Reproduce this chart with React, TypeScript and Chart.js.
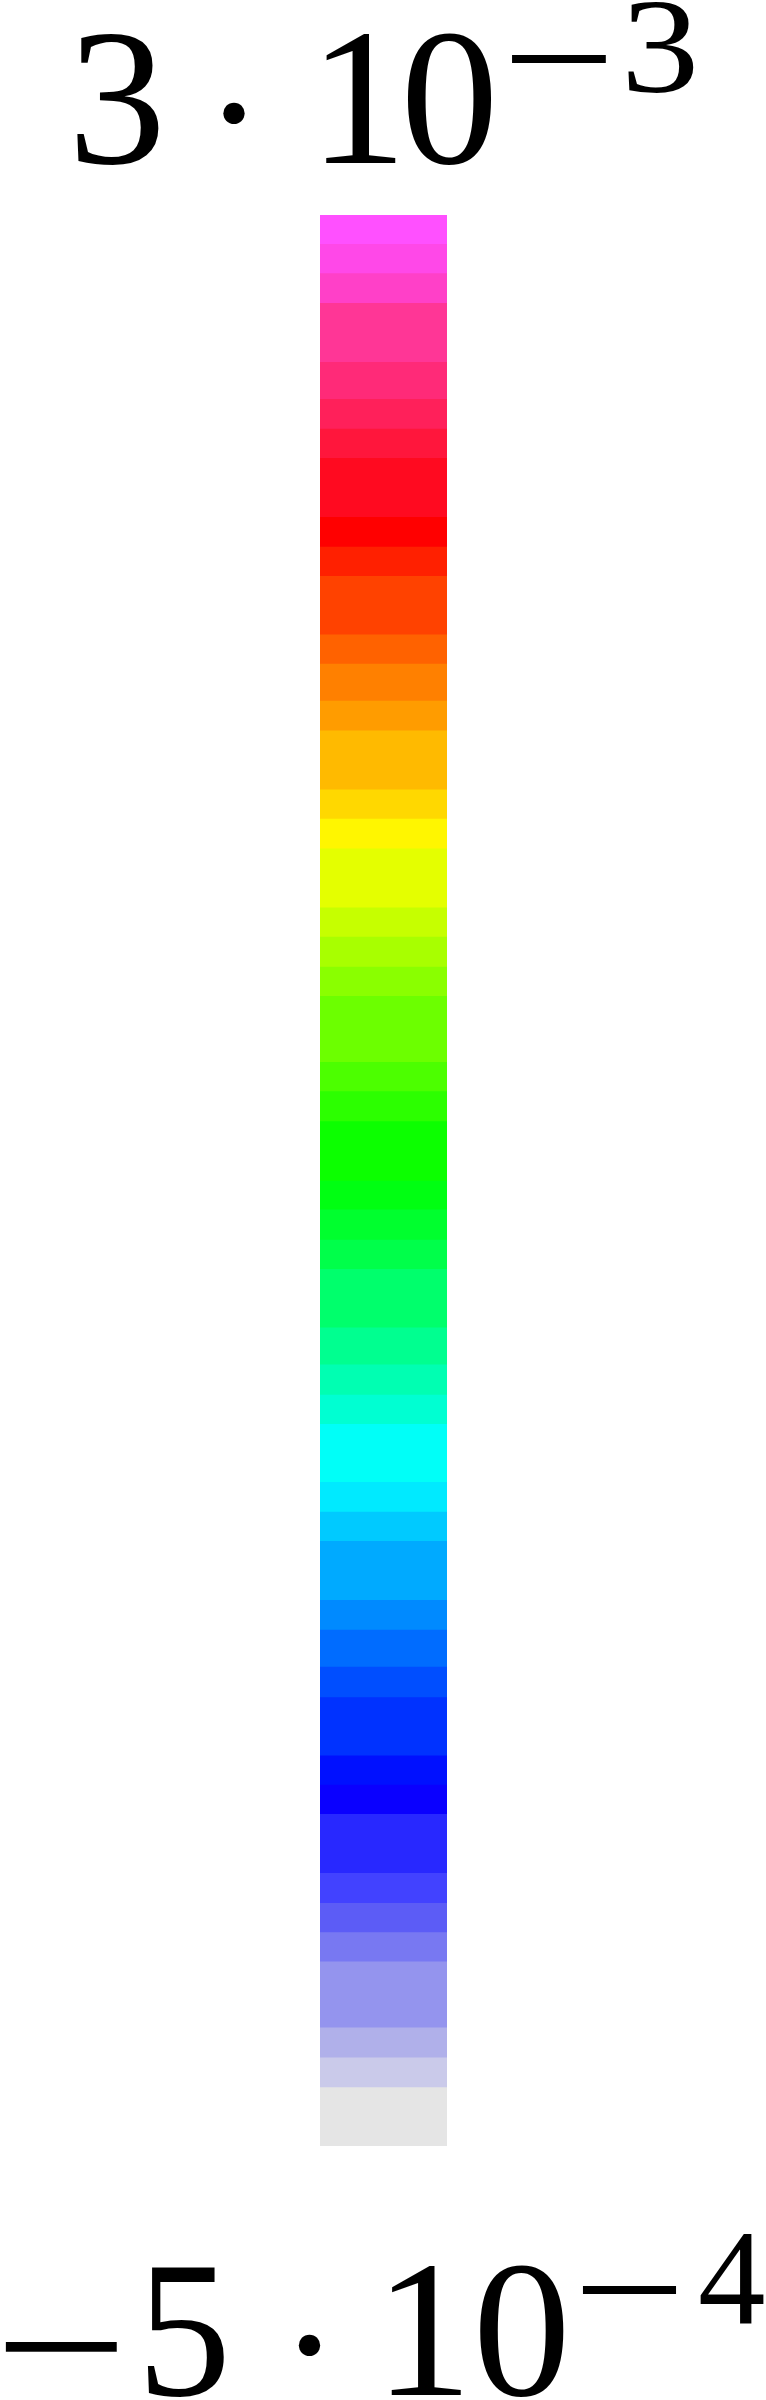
import React, { useEffect, useRef } from "react";
import { Chart, registerables } from "chart.js";

Chart.register(...registerables);

// Colour bar range (value units)
const SCALE_MIN = -5e-4;
const SCALE_MAX = 3e-3;

// Band edges, top to bottom, in units of 1e-4
const BAND_EDGES = [
  30.0, 29.47, 28.94, 28.4, 27.33, 26.66, 26.12, 25.59, 24.52, 23.98, 23.45,
  22.39, 21.86, 21.19, 20.65, 19.58, 19.05, 18.51, 17.44, 16.91, 16.37, 15.84,
  14.64, 14.11, 13.57, 12.49, 11.97, 11.42, 10.89, 9.83, 9.16, 8.61, 8.08,
  7.03, 6.49, 5.96, 4.89, 4.35, 3.68, 3.13, 2.07, 1.54, 1.01, -0.06, -0.6,
  -1.13, -1.66, -2.86, -3.4, -3.94, -5.0,
];

// Band colours, top to bottom
const BAND_COLORS = [
  "#FF50FF", "#FF48E8", "#FF40C8", "#FF3696", "#FF2A78", "#FF205A", "#FF163C",
  "#FF0A20", "#FF0000", "#FF2000", "#FF4200", "#FF6200", "#FF8000", "#FF9C00",
  "#FFBA00", "#FFD800", "#FFF600", "#E4FF00", "#C6FF00", "#A8FF00", "#8AFF00",
  "#6CFF00", "#4CFF00", "#2CFF00", "#0CFF00", "#00FF12", "#00FF2E", "#00FF4A",
  "#00FF6C", "#00FF90", "#00FFB2", "#00FFD2", "#00FFF8", "#00EAFF", "#00CAFF",
  "#00AAFF", "#008AFF", "#006CFF", "#004EFF", "#0032FF", "#0010FF", "#0A00FF",
  "#2828FF", "#4242FF", "#5C5CF6", "#7878F2", "#9494EE", "#B0B0EA", "#CACAEA",
  "#E5E5E5",
];

// Tick labels (max at top, min at bottom), one glyph per piece
const TOP_LABEL = ["3", "·", "1", "0", "−", "3"];
const BOTTOM_LABEL = ["−", "5", "·", "1", "0", "−", "4"];

const FONT = "'Liberation Serif', 'DejaVu Serif', serif";
const LH = 0.5;
const BASE = (LH - 1.107) / 2 + 0.891;

type PieceProps = { text: string; left: number; baseline: number; size: number; sx: number };

function Piece({ text, left, baseline, size, sx }: PieceProps) {
  const style: React.CSSProperties = {
    position: "absolute",
    left,
    top: baseline - BASE * size,
    fontFamily: FONT,
    fontSize: size,
    lineHeight: String(LH),
    whiteSpace: "nowrap",
    color: "#000",
  };
  if (sx !== 1) {
    style.transform = `scaleX(${sx})`;
    style.transformOrigin = "left top";
  }
  return <span style={style}>{text}</span>;
}

// placement of each label glyph: [left, baseline, size, scaleX]
const TOP_LAYOUT: [number, number, number, number][] = [
  [68, 163, 196, 1],
  [204, 174.2, 180, 1],
  [309, 163, 196, 1],
  [400.5, 163, 196, 1],
  [501.9, 112.4, 160, 1.26],
  [621, 92.1, 135, 1.16],
];
const BOTTOM_LAYOUT: [number, number, number, number][] = [
  [-6, 2412.1, 196, 1.216],
  [136.5, 2395, 196, 0.96],
  [279.4, 2406.2, 180, 1],
  [374.5, 2395, 196, 1],
  [472.7, 2395, 196, 1],
  [573, 2343.4, 160, 1.25],
  [697.9, 2324, 135, 1],
];

export default function App() {
  const ref = useRef<HTMLCanvasElement | null>(null);

  useEffect(() => {
    if (!ref.current) return;
    // bottom band first so that it is drawn last (on top); each band spans from the scale min up to its upper edge
    const datasets = BAND_COLORS.map((c, i) => ({
      label: `band ${i}`,
      data: [[SCALE_MIN, BAND_EDGES[i] * 1e-4]] as any,
      backgroundColor: c,
      borderWidth: 0,
      grouped: false,
      barPercentage: 1,
      categoryPercentage: 1,
    })).reverse();
    const chart = new Chart(ref.current, {
      type: "bar",
      data: { labels: ["colorbar"], datasets },
      options: {
        responsive: false,
        animation: false,
        layout: { padding: 0 },
        plugins: { legend: { display: false }, tooltip: { enabled: false } },
        scales: {
          x: { display: false },
          y: { display: false, min: SCALE_MIN, max: SCALE_MAX },
        },
      },
    });
    return () => chart.destroy();
  }, []);

  return (
    <div
      style={{
        position: "absolute",
        left: 0,
        top: 0,
        width: 766,
        height: 2400,
        background: "#fff",
      }}
    >
      <canvas
        ref={ref}
        width={127}
        height={1931}
        style={{ position: "absolute", left: 320, top: 215, width: 127, height: 1931 }}
      />
      {TOP_LABEL.map((t, i) => (
        <Piece key={"t" + i} text={t} left={TOP_LAYOUT[i][0]} baseline={TOP_LAYOUT[i][1]} size={TOP_LAYOUT[i][2]} sx={TOP_LAYOUT[i][3]} />
      ))}
      {BOTTOM_LABEL.map((t, i) => (
        <Piece key={"b" + i} text={t} left={BOTTOM_LAYOUT[i][0]} baseline={BOTTOM_LAYOUT[i][1]} size={BOTTOM_LAYOUT[i][2]} sx={BOTTOM_LAYOUT[i][3]} />
      ))}
    </div>
  );
}
